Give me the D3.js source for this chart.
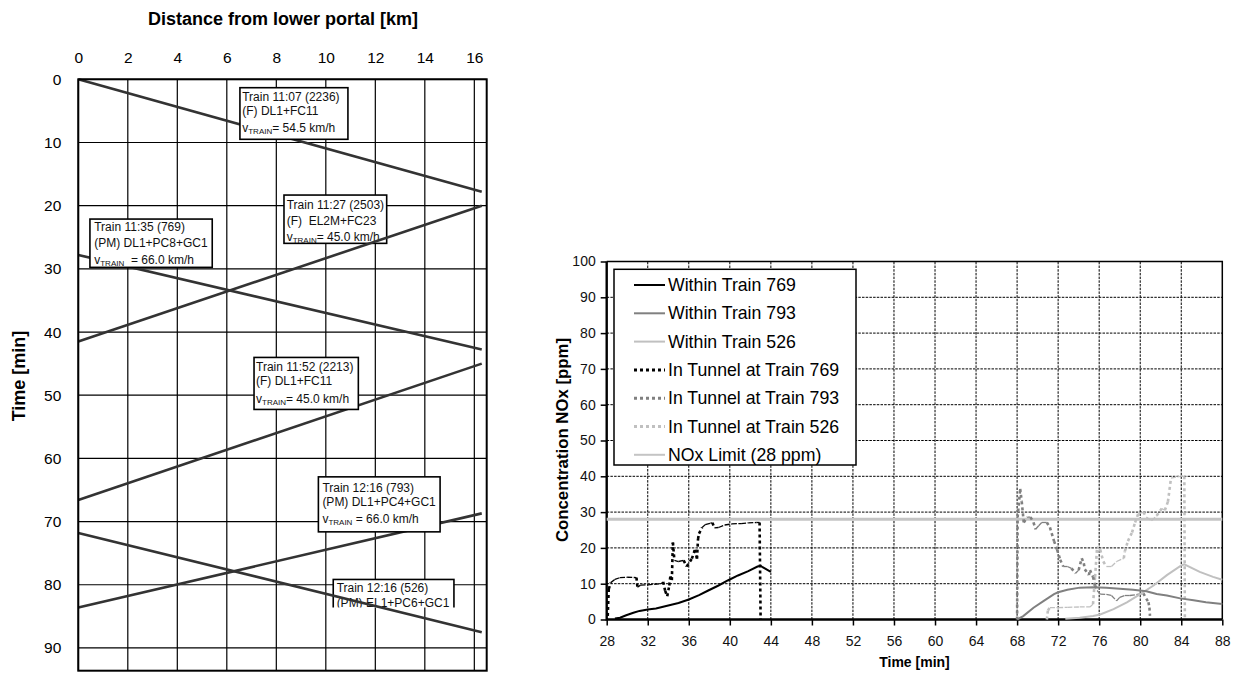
<!DOCTYPE html>
<html>
<head>
<meta charset="utf-8">
<script src="https://cdn.jsdelivr.net/npm/d3@7"></script>
<style>
  html, body { margin: 0; padding: 0; background: #fff; }
  svg { display: block; font-family: Arial, "Liberation Sans", sans-serif; }
</style>
</head>
<body>
<svg id="chart" width="1238" height="673"></svg>
<script>
// ---------------------------------------------------------------------------
// Left: train paths in the tunnel  /  Right: NOx concentration vs time
// ---------------------------------------------------------------------------

// left chart data
const distTicks = [0, 2, 4, 6, 8, 10, 12, 14, 16];
const timeTicks = [0, 10, 20, 30, 40, 50, 60, 70, 80, 90];
const tunnelEndKm = 16.3;
const trainIds = ['2236', '2503', '769', '2213', '793', '526'];
const trainMinAtPortal = [0, 41.5, 27.8, 66.6, 83.6, 71.8];   // at km 0
const trainMinAtEnd = [17.8, 20.0, 42.75, 45.0, 68.7, 87.5];  // at km 16.3
const trainLabels = [
  ['Train 11:07 (2236)', '(F) DL1+FC11', '= 54.5 km/h'],
  ['Train 11:27 (2503)', '(F)  EL2M+FC23', '= 45.0 km/h'],
  ['Train 11:35 (769)', '(PM) DL1+PC8+GC1', '  = 66.0 km/h'],
  ['Train 11:52 (2213)', '(F) DL1+FC11', '= 45.0 km/h'],
  ['Train 12:16 (793)', '(PM) DL1+PC4+GC1', ' = 66.0 km/h'],
  ['Train 12:16 (526)', '(PM) EL1+PC6+GC1', null],
];

// right chart data
const concTicks = [0, 10, 20, 30, 40, 50, 60, 70, 80, 90, 100];
const minTicks = [28, 32, 36, 40, 44, 48, 52, 56, 60, 64, 68, 72, 76, 80, 84, 88];

const within769T = [28.8, 29.3, 29.9, 30.6, 31.2, 32.0, 32.8, 33.4, 34.4, 35.0, 36.0, 37.0, 37.9, 38.9, 39.8, 40.8, 41.8, 42.7, 43.0, 43.2, 43.7, 44.0];
const within769C = [0.3, 0.5, 1.2, 1.9, 2.4, 2.8, 3.1, 3.5, 4.2, 4.6, 5.6, 6.8, 8.1, 9.5, 10.9, 12.3, 13.5, 14.8, 15.0, 14.6, 13.8, 13.3];

const within793T = [68.0, 68.6, 69.6, 70.6, 71.6, 72.0, 72.9, 74.1, 75.4, 76.7, 78.0, 79.3, 80.6, 81.6, 82.6, 83.9, 85.2, 86.4, 88.0];
const within793C = [0, 0.95, 3.3, 5.2, 7.1, 7.6, 8.3, 8.9, 9.0, 8.9, 8.6, 8.3, 7.9, 7.1, 6.7, 5.9, 5.4, 4.8, 4.3];

const within526T = [72.7, 74.1, 75.4, 76.1, 77.4, 78.7, 80.0, 81.3, 82.6, 84.0, 84.3, 85.8, 87.1, 88.0];
const within526C = [0.2, 0.5, 0.95, 1.4, 2.9, 4.8, 7.1, 9.5, 12.4, 15.1, 15.4, 13.3, 11.9, 11.1];

const tunnel769T = [28.1, 28.2, 28.4, 28.8, 29.3, 30.0, 30.9, 31.0, 31.3, 32.0, 33.3, 33.5, 33.7, 33.9, 34.1, 34.2, 34.35, 34.45, 34.6, 35.0, 35.5, 35.8, 36.3, 36.6, 36.8, 36.9, 37.0, 37.3, 37.6, 38.1, 38.3, 38.5, 38.9, 39.5, 40.2, 41.1, 41.8, 42.6, 42.9, 43.0];
const tunnel769C = [1.0, 8.5, 10.3, 11.2, 11.7, 11.8, 11.7, 9.0, 9.6, 9.7, 10.0, 10.5, 8.0, 6.5, 9.5, 12.0, 11.0, 21.5, 16.5, 16.2, 16.5, 14.8, 17.0, 19.5, 17.0, 22.5, 24.0, 25.7, 26.5, 26.9, 27.0, 25.6, 25.7, 26.4, 26.7, 26.8, 27.0, 27.1, 27.1, 0];

const tunnel793T = [68.0, 68.05, 68.3, 68.45, 68.65, 69.0, 69.3, 69.6, 69.8, 70.1, 70.4, 70.9, 71.2, 71.6, 71.9, 72.2, 72.5, 72.9, 73.3, 73.7, 74.0, 74.3, 74.5, 74.6, 75.0, 75.1, 75.4, 75.6, 75.8, 76.1, 76.7, 77.2, 77.7, 78.0, 78.5, 79.0, 79.7, 80.3, 80.8, 80.9, 80.95];
const tunnel793C = [0, 28.5, 36.5, 33.0, 27.1, 28.6, 28.6, 27.1, 25.2, 26.2, 27.1, 27.1, 25.7, 21.9, 19.5, 16.7, 14.8, 14.8, 14.3, 12.9, 13.8, 17.1, 15.7, 14.0, 12.4, 13.8, 11.9, 9.5, 8.1, 7.1, 7.0, 6.7, 5.2, 6.2, 6.7, 6.7, 7.0, 7.3, 4.8, 3.3, 1.0];

const tunnel526T = [70.9, 71.0, 71.2, 72.0, 72.9, 74.1, 75.1, 75.4, 75.6, 75.8, 76.1, 76.4, 76.7, 77.2, 77.7, 78.4, 78.5, 78.8, 79.2, 79.5, 79.8, 80.3, 80.6, 81.1, 81.6, 82.1, 82.4, 82.7, 83.0, 83.9, 84.3, 84.35];
const tunnel526C = [0, 2.5, 3.3, 3.3, 3.4, 3.5, 3.5, 4.3, 11.9, 20.3, 19.5, 16.2, 14.8, 14.8, 16.2, 17.1, 19.0, 21.9, 24.3, 27.1, 29.5, 30.0, 28.6, 27.6, 29.0, 31.0, 30.5, 32.9, 39.5, 40.0, 40.0, 0];

const limitT = [28, 88];
const limitC = [28, 28];

const seriesNames = ['Within Train 769', 'Within Train 793', 'Within Train 526',
  'In Tunnel at Train 769', 'In Tunnel at Train 793', 'In Tunnel at Train 526', 'NOx Limit (28 ppm)'];

// ---------------------------------------------------------------------------
const svg = d3.select('#chart');
const zip = (a, b) => a.map((v, i) => [v, b[i]]);

// ===== left chart =====
const xKm = d3.scaleLinear().domain([0, 16.5]).range([78.3, 486.7]);
const yMin = d3.scaleLinear().domain([0, 93.6]).range([79.3, 670.7]);
const L = svg.append('g');

svg.append('text').attr('x', 283).attr('y', 25).attr('text-anchor', 'middle')
  .style('font-size', '18px').style('font-weight', 'bold').text('Distance from lower portal [km]');
svg.append('text').attr('transform', 'translate(25,376) rotate(-90)').attr('text-anchor', 'middle')
  .style('font-size', '18px').style('font-weight', 'bold').text('Time [min]');

// grid
L.append('g').selectAll('line').data(distTicks).join('line')
  .attr('x1', d => xKm(d)).attr('x2', d => xKm(d))
  .attr('y1', yMin.range()[0]).attr('y2', yMin.range()[1])
  .attr('stroke', '#000').attr('stroke-width', 1.2);
L.append('g').selectAll('line').data(timeTicks).join('line')
  .attr('y1', d => yMin(d)).attr('y2', d => yMin(d))
  .attr('x1', xKm.range()[0]).attr('x2', xKm.range()[1])
  .attr('stroke', '#000').attr('stroke-width', 1.2);

const axT = L.append('g').attr('transform', `translate(0,${yMin.range()[0]})`)
  .call(d3.axisTop(xKm).tickValues(distTicks).tickSize(0).tickPadding(16));
const axL = L.append('g').attr('transform', `translate(${xKm.range()[0]},0)`)
  .call(d3.axisLeft(yMin).tickValues(timeTicks).tickSize(0).tickPadding(17));
[axT, axL].forEach(a => {
  a.select('.domain').remove();
  a.selectAll('text').style('font-size', '15.5px').style('font-family', 'Arial, "Liberation Sans", sans-serif').attr('fill', '#000');
});

// annotation box layout (km / min anchor, pixel size)
const boxLayout = [
  { km: 6.53, min: 1.33, w: 108, h: 51.6, px: 2.3, dy: [13.3, 27.3, 44.6], over: true },
  { km: 8.31, min: 18.32, w: 102.7, h: 48.3, px: 2.7, dy: [14, 30, 45.7], over: false },
  { km: 0.47, min: 22.12, w: 122.3, h: 48.3, px: 4.3, dy: [11.7, 27.7, 45], over: true },
  { km: 7.10, min: 44.02, w: 104.3, h: 52, px: 2, dy: [13.7, 27.7, 45.4], over: true },
  { km: 9.70, min: 62.92, w: 121.7, h: 55, px: 4, dy: [15, 29.3, 46.6], over: true },
  { km: 10.30, min: 79.16, w: 120.7, h: 28, px: 3.4, dy: [12.4, 27.4], over: false, open: true },
];

svg.append('defs').append('clipPath').attr('id', 'clip6').append('rect')
  .attr('x', xKm(boxLayout[5].km) - 2).attr('y', yMin(boxLayout[5].min) - 2)
  .attr('width', boxLayout[5].w + 4).attr('height', boxLayout[5].h + 2);

function drawBox(parent, i) {
  const b = boxLayout[i];
  const x0 = xKm(b.km), y0 = yMin(b.min);
  const g = parent.append('g');
  if (b.open) g.attr('clip-path', 'url(#clip6)');
  g.append('rect').attr('x', x0).attr('y', y0).attr('width', b.w).attr('height', b.h + (b.open ? 6 : 0))
    .attr('fill', '#fff').attr('stroke', '#000').attr('stroke-width', 1.6);
  const lines = trainLabels[i];
  lines.forEach((t, j) => {
    if (t === null) return;
    const txt = g.append('text').attr('x', x0 + b.px).attr('y', y0 + b.dy[j]).style('font-size', '12px').attr('fill', '#111');
    if (j < 2) { txt.attr('xml:space', 'preserve').text(t); return; }
    txt.append('tspan').text('v');
    txt.append('tspan').attr('dy', 2).style('font-size', '8px').text('TRAIN');
    txt.append('tspan').attr('dy', -2).attr('xml:space', 'preserve').style('white-space', 'pre').text(t);
  });
}

const underBoxes = L.append('g');
const trainLayer = L.append('g');
const overBoxes = L.append('g');
boxLayout.forEach((b, i) => drawBox(b.over ? overBoxes : underBoxes, i));

trainLayer.selectAll('line').data(trainIds).join('line')
  .attr('x1', xKm(0)).attr('y1', (d, i) => yMin(trainMinAtPortal[i]))
  .attr('x2', xKm(tunnelEndKm)).attr('y2', (d, i) => yMin(trainMinAtEnd[i]))
  .attr('stroke', '#333').attr('stroke-width', 2.6);

L.append('rect').attr('x', xKm.range()[0]).attr('y', yMin.range()[0])
  .attr('width', xKm.range()[1] - xKm.range()[0]).attr('height', yMin.range()[1] - yMin.range()[0])
  .attr('fill', 'none').attr('stroke', '#000').attr('stroke-width', 2);

// ===== right chart =====
const xT = d3.scaleLinear().domain([28, 88]).range([606.7, 1222.3]);
const yC = d3.scaleLinear().domain([0, 100]).range([619.5, 261.5]);
const R = svg.append('g');

svg.append('text').attr('x', 914.5).attr('y', 667).attr('text-anchor', 'middle')
  .style('font-size', '14px').style('font-weight', 'bold').text('Time [min]');
svg.append('text').attr('transform', 'translate(568,440) rotate(-90)').attr('text-anchor', 'middle')
  .style('font-size', '16.8px').style('font-weight', 'bold').text('Concentration NOx [ppm]');

R.append('g').selectAll('line').data(minTicks.slice(1, -1)).join('line')
  .attr('x1', d => xT(d)).attr('x2', d => xT(d)).attr('y1', yC(0)).attr('y2', yC(100))
  .attr('stroke', '#000').attr('stroke-width', 1).attr('stroke-dasharray', '2.5,1.2');
R.append('g').selectAll('line').data(concTicks.slice(1, -1)).join('line')
  .attr('y1', d => yC(d)).attr('y2', d => yC(d)).attr('x1', xT(28)).attr('x2', xT(88))
  .attr('stroke', '#000').attr('stroke-width', 1).attr('stroke-dasharray', '2.5,1.2');

const axB = R.append('g').attr('transform', `translate(0,${yC(0)})`)
  .call(d3.axisBottom(xT).tickValues(minTicks).tickSize(6).tickPadding(11));
const axY = R.append('g').attr('transform', `translate(${xT(28)},0)`)
  .call(d3.axisLeft(yC).tickValues(concTicks).tickSize(6).tickPadding(5));
[axB, axY].forEach(a => {
  a.select('.domain').remove();
  a.selectAll('line').attr('stroke', '#000').attr('stroke-width', 1.5);
  a.selectAll('text').style('font-size', '14px').style('font-family', 'Arial, "Liberation Sans", sans-serif').attr('fill', '#111');
});

// frame
R.append('path').attr('d', `M${xT(28)},${yC(100)}H${xT(88)}V${yC(0)}`)
  .attr('fill', 'none').attr('stroke', '#000').attr('stroke-width', 1.5);
R.append('path').attr('d', `M${xT(28)},${yC(100)}V${yC(0)}H${xT(88)}`)
  .attr('fill', 'none').attr('stroke', '#000').attr('stroke-width', 2.4);

const series = [
  { t: within769T, c: within769C, color: '#000', w: 2, dash: null },
  { t: within793T, c: within793C, color: '#808080', w: 2, dash: null },
  { t: within526T, c: within526C, color: '#c0c0c0', w: 2, dash: null },
  { t: tunnel769T, c: tunnel769C, color: '#000', w: 2.6, dash: '3,3' },
  { t: tunnel793T, c: tunnel793C, color: '#808080', w: 2.6, dash: '3,3' },
  { t: tunnel526T, c: tunnel526C, color: '#c0c0c0', w: 2.6, dash: '3,3' },
  { t: limitT, c: limitC, color: '#c4c4c4', w: 3, dash: null },
];
const line = d3.line().x(d => xT(d[0])).y(d => yC(d[1]));
const drawOrder = [6, 5, 4, 2, 1, 3, 0];
const plotG = R.append('g');
drawOrder.forEach(i => {
  const s = series[i];
  const pts = zip(s.t, s.c);
  if (!s.dash) {
    plotG.append('path').attr('d', line(pts)).attr('fill', 'none')
      .attr('stroke', s.color).attr('stroke-width', s.w);
    return;
  }
  // dotted series: dense, slow parts read as a thin trace, steep jumps as dots
  plotG.append('g').selectAll('line').data(d3.pairs(pts)).join('line')
    .attr('x1', d => xT(d[0][0])).attr('y1', d => yC(d[0][1]))
    .attr('x2', d => xT(d[1][0])).attr('y2', d => yC(d[1][1]))
    .attr('stroke', s.color)
    .each(function (d) {
      const dx = Math.abs(xT(d[1][0]) - xT(d[0][0]));
      const dy = Math.abs(yC(d[1][1]) - yC(d[0][1]));
      const steep = dy > dx * 1.2;
      d3.select(this).attr('stroke-width', steep ? s.w : 1.3)
        .attr('stroke-dasharray', steep ? s.dash : '5,1.5');
    });
});

// legend
const lg = R.append('g');
lg.append('rect').attr('x', 614).attr('y', 269.3).attr('width', 242).attr('height', 195.7)
  .attr('fill', '#fff').attr('stroke', '#000').attr('stroke-width', 1.5);
const rows = lg.selectAll('g').data(seriesNames).join('g')
  .attr('transform', (d, i) => `translate(0,${285 + i * 28.3})`);
rows.append('line').attr('x1', 634).attr('x2', 665).attr('y1', 0).attr('y2', 0)
  .attr('stroke', (d, i) => series[i].color).attr('stroke-width', (d, i) => series[i].dash ? 3 : 2)
  .attr('stroke-dasharray', (d, i) => series[i].dash);
rows.append('text').attr('x', 668).attr('y', 6).style('font-size', '17.7px').attr('fill', '#000').text(d => d);
</script>
</body>
</html>
